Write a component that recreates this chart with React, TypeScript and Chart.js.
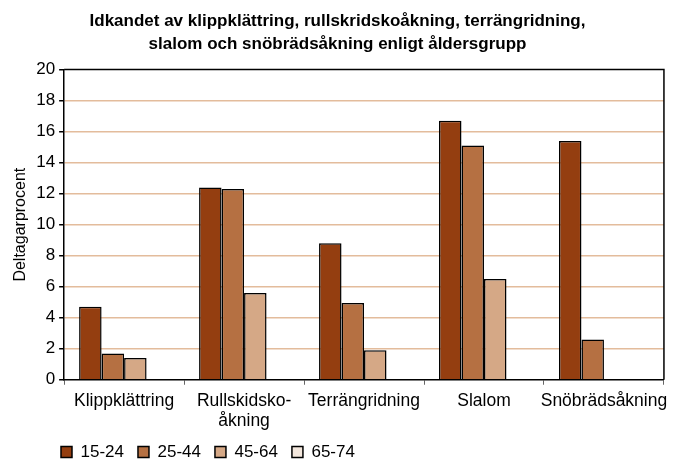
import React, { useEffect, useRef } from "react";
import { Chart, registerables } from "chart.js";
Chart.register(...registerables);

const categories: (string | string[])[] = ["Klippklättring", ["Rullskidsko-", "åkning"], "Terrängridning", "Slalom", "Snöbrädsåkning"];
const series = ["15-24", "25-44", "45-64", "65-74"];
const v1524 = [4.7, 12.4, 8.8, 16.7, 15.4];
const v2544 = [1.7, 12.3, 4.95, 15.1, 2.6];
const v4564 = [1.4, 5.6, 1.9, 6.5, null];
const v6574 = [null, null, null, null, null];
const yTicks = [0, 2, 4, 6, 8, 10, 12, 14, 16, 18, 20];
const colors = ["#943E10", "#B57042", "#D5A886", "#F3E7DD"];
const FONT = "'Liberation Sans', Arial, Helvetica, sans-serif";
const LEG_PAD = 14;

const framePlugin = {
  id: "frame",
  afterLayout(chart: any) {
    const l = chart.legend;
    if (l) {
      const dx = 61 - LEG_PAD - l.left;
      l.left += dx;
      l.right += dx;
      l.top = 452 - LEG_PAD - 8.5;
      l.bottom = l.top + 60;
    }
  },
  afterDraw(chart: any) {
    const { ctx, chartArea: a } = chart;
    ctx.save();
    ctx.strokeStyle = "#000";
    ctx.lineWidth = 1.5;
    ctx.beginPath();
    ctx.moveTo(a.left, a.top);
    ctx.lineTo(a.right, a.top);
    ctx.lineTo(a.right, a.bottom);
    ctx.stroke();
    ctx.restore();
  },
};

export default function App() {
  const ref = useRef<HTMLCanvasElement>(null);
  useEffect(() => {
    document.body.style.margin = "0";
    const data = [v1524, v2544, v4564, v6574];
    const chart = new Chart(ref.current!, {
      type: "bar",
      data: {
        labels: categories,
        datasets: series.map((s, i) => ({
          label: s,
          data: data[i],
          backgroundColor: colors[i],
          borderColor: "#000",
          borderWidth: 1.5,
          categoryPercentage: 0.75,
          barPercentage: 1,
        })),
      },
      options: {
        animation: false,
        responsive: false,
        maintainAspectRatio: false,
        layout: { padding: { left: 9, right: 8, top: 4, bottom: 0 } },
        plugins: {
          title: {
            display: true,
            text: ["Idkandet av klippklättring, rullskridskoåkning, terrängridning,", "slalom och snöbrädsåkning enligt åldersgrupp"],
            color: "#000",
            font: { family: FONT, size: 17, weight: "bold", lineHeight: 1.4 },
            padding: { top: 5, bottom: 13 },
          },
          legend: {
            position: "bottom",
            align: "start",
            maxHeight: 22,
            labels: {
              color: "#000",
              font: { family: FONT, size: 17 },
              boxWidth: 11,
              boxHeight: 11,
              padding: LEG_PAD,
            },
          },
          tooltip: { enabled: false },
        },
        scales: {
          x: {
            grid: { drawOnChartArea: false, color: "#666", tickLength: 5, offset: true },
            border: { color: "#000", width: 1.5 },
            ticks: { color: "#000", font: { family: FONT, size: 17.5, lineHeight: 1.15 }, maxRotation: 0, autoSkip: false, padding: 6 },
          },
          y: {
            min: 0,
            max: 20,
            afterBuildTicks: (ax: any) => { ax.ticks = yTicks.map((v) => ({ value: v })); },
            grid: {
              color: (c: any) => (c.tick && (c.tick.value === 0 || c.tick.value === 20) ? "rgba(0,0,0,0)" : "#E3BC9C"),
              lineWidth: 1.5,
              tickColor: "#000",
              tickLength: 5,
            },
            border: { color: "#000", width: 1.5 },
            ticks: { color: "#000", font: { family: FONT, size: 17 }, padding: 4 },
            title: { display: true, text: "Deltagarprocent", color: "#000", font: { family: FONT, size: 16 }, padding: 2 },
          },
        },
      },
      plugins: [framePlugin],
    });
    return () => chart.destroy();
  }, []);
  return <canvas ref={ref} width={674} height={459} style={{ display: "block" }} />;
}
